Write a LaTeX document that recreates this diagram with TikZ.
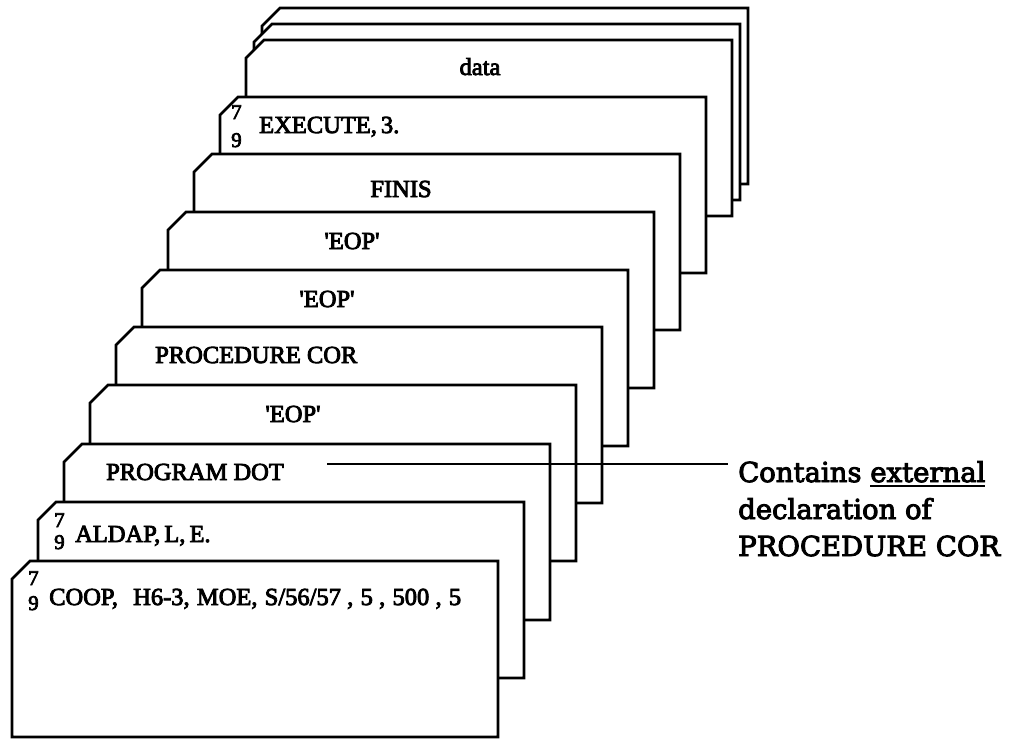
\documentclass[tikz,border=0pt]{standalone}
\usepackage{fontspec}
\usepackage{graphicx}
\setmainfont{Liberation Serif}
\newfontfamily\cardfont[FakeBold=3.5]{Liberation Serif}
\newfontfamily\calloutfont[FakeBold=3.5]{DejaVu Serif}
\newcommand\mkcard[2]{\draw[cardline] (#1,#2+18) -- (#1+18,#2) -- (#1+486,#2) -- (#1+486,#2+176) -- (#1,#2+176) -- cycle;}
\newcommand\myul[1]{\setbox0\hbox{#1}\rlap{\rule[-5pt]{\wd0}{1.8pt}}\box0}
\newcommand\sq{\textquotesingle}
\newcommand\gp[1]{\hspace{#1pt plus 1fil}}
\begin{document}
\begin{tikzpicture}[x=1pt,y=-1pt,
  cardline/.style={draw=black, line width=2.8pt, fill=white, line join=miter},
  ctext/.style={font=\cardfont\fontsize{24.5}{28}\selectfont, inner sep=0pt},
  digit/.style={font=\cardfont\fontsize{21}{22}\selectfont, inner sep=0pt, anchor=base west},
  callout/.style={font=\calloutfont\fontsize{27.5}{37}\selectfont, inner sep=0pt, anchor=base west},
  leader/.style={line width=2.2pt}]
\useasboundingbox (0,0) rectangle (1014,739);
% back cards (data deck)
\mkcard{262}{8}
\mkcard{254}{24}
% card 9: data
\mkcard{246}{40}
\node[ctext, anchor=base] (t9) at (480,75) {data};
% card 8: EXECUTE
\mkcard{220}{97}
\node[digit] (d8a) at (231,119) {7};
\node[digit] (d8b) at (231,147) {9};
\node[ctext, anchor=base west] (t8) at (259,133) {EXECUTE,\,3.};
% card 7: FINIS
\mkcard{194}{154}
\node[ctext, anchor=base] (t7) at (401,197) {FINIS};
% card 6: EOP
\mkcard{168}{212}
\node[ctext, anchor=base] (t6) at (352,249) {\sq EOP\sq};
% card 5: EOP
\mkcard{142}{270}
\node[ctext, anchor=base] (t5) at (327,307) {\sq EOP\sq};
% card 4: PROCEDURE COR
\mkcard{116}{327}
\node[ctext, anchor=base west] (t4) at (155,363) {PROCEDURE COR};
% card 3: EOP
\mkcard{90}{385}
\node[ctext, anchor=base] (t3) at (293,422) {\sq EOP\sq};
% card 2: PROGRAM DOT
\mkcard{64}{444}
\node[ctext, anchor=base west] (t2) at (106,480) {PROGRAM DOT};
% card 1: ALDAP
\mkcard{38}{502}
\node[digit] (d1a) at (54,527) {7};
\node[digit] (d1b) at (54,549) {9};
\node[ctext, anchor=base west] (t1) at (75,542) {ALDAP,\,L,\,E.};
% card 0: COOP
\mkcard{12}{561}
\node[digit] (d0a) at (28,585) {7};
\node[digit] (d0b) at (28,610) {9};
\node[ctext, anchor=base west] (t0) at (49,605) {\makebox[412pt][s]{COOP,\gp{10}H6-3,\gp{2}MOE,\gp{2}S/56/57\gp{1},\gp{2}5\gp{1},\gp{2}500\gp{1},\gp{2}5}};
% callout
\node[callout] (c1) at (738,482) {Contains \myul{external}};
\node[callout] (c2) at (738,519) {declaration of};
\node[callout] (c3) at (738,556) {PROCEDURE COR};
\coordinate (ls) at (327,464);
\coordinate (le) at (728,464);
\draw[leader] (ls) -- (le);
\end{tikzpicture}
\end{document}
